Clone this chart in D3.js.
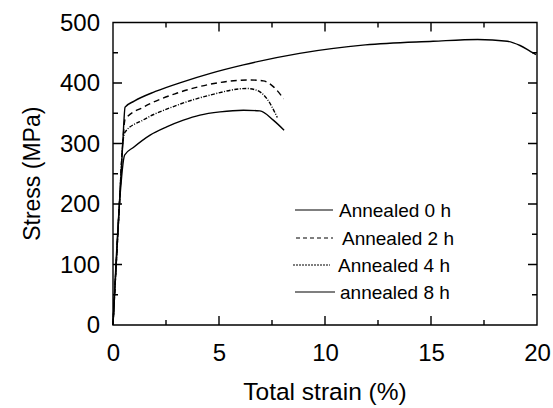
<!DOCTYPE html>
<html>
<head>
<meta charset="utf-8">
<script src="https://cdn.jsdelivr.net/npm/d3@7/dist/d3.min.js"></script>
<style>
  html, body { margin: 0; padding: 0; background: #fff; }
  svg { display: block; font-family: "Liberation Sans", Arial, sans-serif; }
</style>
</head>
<body>
<svg id="chart" width="553" height="408"></svg>
<script>
// Stress–strain curves of samples annealed for different times
const seriesNames = ["Annealed 0 h", "Annealed 2 h", "Annealed 4 h", "annealed 8 h"];

// [total strain (%), stress (MPa)]
const annealed0h = [
  [0, 0], [0.3, 198], [0.46, 300], [0.57, 360], [1.0, 370], [2.0, 386], [3.3, 402],
  [4.6, 416], [6.15, 430], [8.8, 449], [11.9, 463], [15.1, 469], [17.2, 472],
  [18.6, 469], [19.2, 462], [19.7, 452], [19.95, 447]
];
const annealed2h = [
  [0, 0], [0.3, 198], [0.46, 300], [0.57, 340], [1.43, 360], [3.0, 383], [4.58, 398],
  [6.46, 405], [7.09, 403.5], [7.56, 394], [8.05, 374]
];
const annealed4h = [
  [0, 0], [0.3, 198], [0.46, 300], [0.57, 319], [1.43, 339], [3.0, 363], [4.58, 380],
  [6.3, 391], [6.78, 388], [7.25, 374.5], [7.75, 343]
];
const annealed8h = [
  [0, 0], [0.3, 198], [0.55, 281], [0.96, 293.5], [1.75, 314], [2.53, 327.5],
  [3.32, 338.6], [4.1, 347], [5.05, 352.3], [6.15, 355], [6.93, 354], [7.56, 338.6],
  [8.07, 322]
];
const seriesData = [annealed0h, annealed2h, annealed4h, annealed8h];
const seriesDash = [null, "6,4", "4,1.5,1,1.5", null];

const xTicks = [0, 5, 10, 15, 20];
const xMinorTicks = [2.5, 7.5, 12.5, 17.5];
const yTicks = [0, 100, 200, 300, 400, 500];
const yMinorTicks = [50, 150, 250, 350, 450];

const xLabel = "Total strain (%)";
const yLabel = "Stress (MPa)";

const plotLeft = 113, plotRight = 537, plotTop = 22.5, plotBottom = 325;
const svg = d3.select("#chart");

const x = d3.scaleLinear().domain([0, 20]).range([plotLeft, plotRight]);
const y = d3.scaleLinear().domain([0, 500]).range([plotBottom, plotTop]);

const major = 9, minor = 5;

// tick labels from the axis generators
const gxB = svg.append("g").attr("transform", `translate(0,${plotBottom})`)
  .call(d3.axisBottom(x).tickValues(xTicks).tickSize(0).tickPadding(19).tickFormat(d3.format("d")));
gxB.select(".domain").remove();
gxB.selectAll(".tick text").attr("font-size", 24).attr("fill", "#000");

const gyL = svg.append("g").attr("transform", `translate(${plotLeft},0)`)
  .call(d3.axisLeft(y).tickValues(yTicks).tickSize(0).tickPadding(13).tickFormat(d3.format("d")));
gyL.select(".domain").remove();
gyL.selectAll(".tick text").attr("font-size", 24).attr("fill", "#000");

// frame and inward tick marks on all four sides, as one path
const fp = d3.path();
fp.rect(plotLeft, plotTop, plotRight - plotLeft, plotBottom - plotTop);
const xTickSet = xTicks.map(v => [v, major]).concat(xMinorTicks.map(v => [v, minor]));
const yTickSet = yTicks.map(v => [v, major]).concat(yMinorTicks.map(v => [v, minor]));
xTickSet.forEach(([v, len]) => {
  fp.moveTo(x(v), plotBottom); fp.lineTo(x(v), plotBottom - len);
  fp.moveTo(x(v), plotTop); fp.lineTo(x(v), plotTop + len);
});
yTickSet.forEach(([v, len]) => {
  fp.moveTo(plotLeft, y(v)); fp.lineTo(plotLeft + len, y(v));
  fp.moveTo(plotRight, y(v)); fp.lineTo(plotRight - len, y(v));
});
svg.append("path")
  .attr("d", fp.toString())
  .attr("fill", "none")
  .attr("stroke", "#000")
  .attr("stroke-width", 1.4);

// curves
const line = d3.line().x(d => x(d[0])).y(d => y(d[1])).curve(d3.curveMonotoneX);
svg.append("g").selectAll("path").data(seriesData).join("path")
  .attr("d", line)
  .attr("fill", "none")
  .attr("stroke", "#000")
  .attr("stroke-width", 1.4)
  .attr("stroke-dasharray", (d, i) => seriesDash[i]);

// axis titles
svg.append("text")
  .attr("x", (plotLeft + plotRight) / 2).attr("y", 400)
  .attr("text-anchor", "middle").attr("font-size", 24.5).attr("fill", "#000")
  .text(xLabel);
svg.append("text")
  .attr("transform", `translate(40,${(plotTop + plotBottom) / 2}) rotate(-90)`)
  .attr("text-anchor", "middle").attr("font-size", 23).attr("fill", "#000")
  .text(yLabel);

// legend
const legendRows = [
  { y: 210, x1: 295, x2: 333, tx: 339 },
  { y: 238, x1: 296, x2: 333, tx: 342 },
  { y: 265, x1: 293, x2: 330, tx: 338 },
  { y: 292, x1: 295, x2: 335, tx: 340 }
];
const legend = svg.append("g");
seriesNames.forEach((name, i) => {
  const r = legendRows[i];
  legend.append("line")
    .attr("x1", r.x1).attr("x2", r.x2).attr("y1", r.y).attr("y2", r.y)
    .attr("stroke", "#000").attr("stroke-width", 1.2)
    .attr("stroke-dasharray", i === 1 ? "4,3" : (i === 2 ? "2,1" : null));
  legend.append("text")
    .attr("x", r.tx).attr("y", r.y).attr("dy", "0.35em")
    .attr("font-size", 19).attr("fill", "#000")
    .text(name);
});
</script>
</body>
</html>
